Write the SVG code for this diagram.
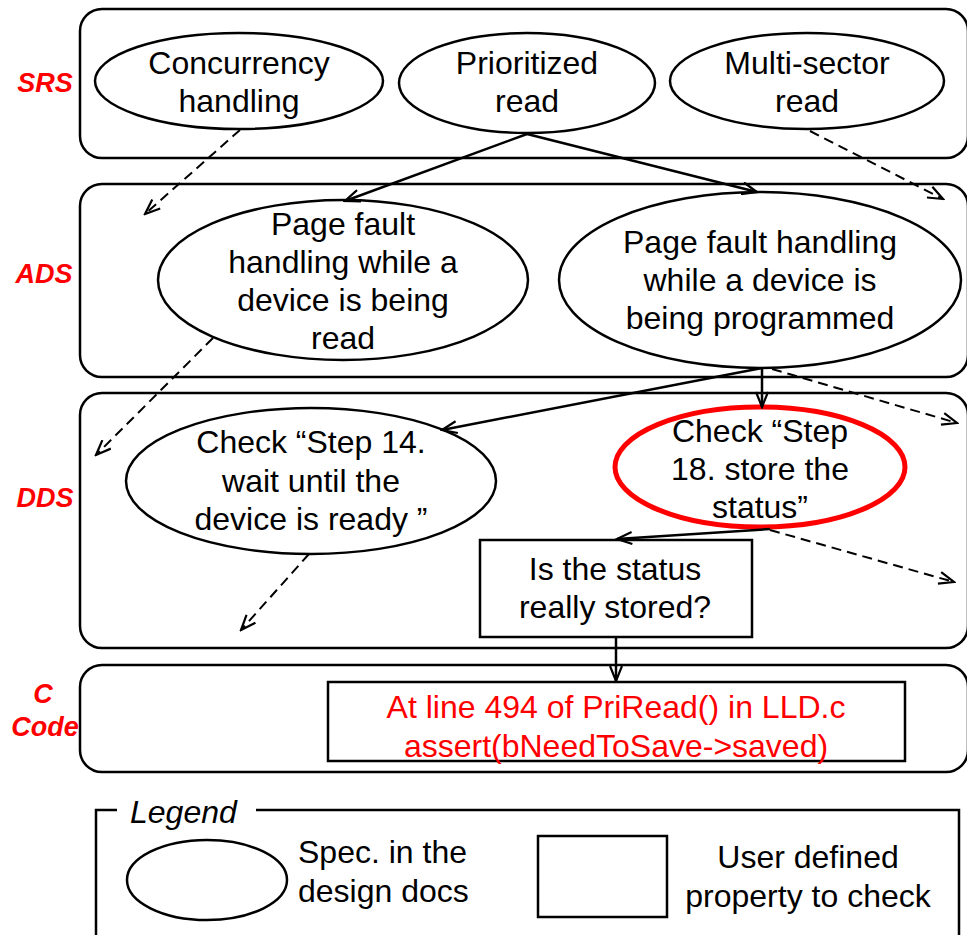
<svg xmlns="http://www.w3.org/2000/svg" width="967" height="935" viewBox="0 0 967 935">
<style>
.layer{fill:#fff;stroke:#000;stroke-width:2.5}
.el{fill:#fff;stroke:#000;stroke-width:2.5}
.box{fill:#fff;stroke:#000;stroke-width:2.5}
.t{font-family:"Liberation Sans",Arial,sans-serif;font-size:32px;fill:#000;text-anchor:middle}
.red{fill:#ff0000}
.lbl{font-family:"Liberation Sans",Arial,sans-serif;font-size:27px;font-weight:bold;font-style:italic;fill:#ff0000;text-anchor:middle}
.solid{fill:none;stroke:#000;stroke-width:2.5;marker-end:url(#arr)}
.dash{fill:none;stroke:#000;stroke-width:2;stroke-dasharray:10 6;marker-end:url(#arr)}
</style>
<defs>
<marker id="arr" viewBox="0 0 18 14" refX="16" refY="7" markerWidth="18" markerHeight="14" markerUnits="userSpaceOnUse" orient="auto">
<path d="M1,1 L16,7 L1,13" fill="none" stroke="#000" stroke-width="2.2" stroke-dasharray="none"/>
</marker>
</defs>
<rect width="967" height="935" fill="#fff"/>

<g id="layers">
<rect class="layer" x="80" y="9" width="888" height="149" rx="22"/>
<rect class="layer" x="80" y="184" width="888" height="193" rx="22"/>
<rect class="layer" x="80" y="393" width="888" height="255" rx="22"/>
<rect class="layer" x="80" y="665" width="888" height="107" rx="22"/>
<text class="lbl" x="45" y="92">SRS</text>
<text class="lbl" x="44" y="283">ADS</text>
<text class="lbl" x="45" y="507">DDS</text>
<text class="lbl" x="43" y="703">C</text>
<text class="lbl" x="45" y="736">Code</text>
</g>

<g id="n-concurrency">
<ellipse class="el" cx="239" cy="81" rx="144" ry="48"/>
<text class="t" x="239" y="74">Concurrency</text>
<text class="t" x="239" y="112">handling</text>
</g>
<g id="n-prioritized">
<ellipse class="el" cx="527" cy="83" rx="128" ry="50"/>
<text class="t" x="527" y="74">Prioritized</text>
<text class="t" x="527" y="112">read</text>
</g>
<g id="n-multisector">
<ellipse class="el" cx="807" cy="81" rx="137" ry="48"/>
<text class="t" x="807" y="74">Multi-sector</text>
<text class="t" x="807" y="112">read</text>
</g>

<g id="n-pf-read">
<ellipse class="el" cx="343" cy="280" rx="185" ry="80"/>
<text class="t" x="343" y="235">Page fault</text>
<text class="t" x="343" y="273">handling while a</text>
<text class="t" x="343" y="311">device is being</text>
<text class="t" x="343" y="349">read</text>
</g>
<g id="n-pf-prog">
<ellipse class="el" cx="760" cy="280" rx="201" ry="88"/>
<text class="t" x="760" y="253">Page fault handling</text>
<text class="t" x="760" y="291">while a device is</text>
<text class="t" x="760" y="329">being programmed</text>
</g>

<g id="n-step14">
<ellipse class="el" cx="311" cy="481" rx="185" ry="73"/>
<text class="t" x="311" y="453">Check “Step 14.</text>
<text class="t" x="311" y="492">wait until the</text>
<text class="t" x="311" y="530">device is ready ”</text>
</g>
<g id="n-step18">
<ellipse cx="760" cy="467" rx="145" ry="60" fill="#fff" stroke="#ff0000" stroke-width="5"/>
<text class="t" x="760" y="442">Check “Step</text>
<text class="t" x="760" y="480">18. store the</text>
<text class="t" x="760" y="518">status”</text>
</g>

<g id="n-status">
<rect class="box" x="480" y="540" width="272" height="97"/>
<text class="t" x="615" y="580">Is the status</text>
<text class="t" x="615" y="618">really stored?</text>
</g>

<g id="n-code">
<rect class="box" x="328" y="682" width="577" height="79"/>
<text class="t red" x="616" y="718">At line 494 of PriRead() in LLD.c</text>
<text class="t red" x="616" y="757">assert(bNeedToSave-&gt;saved)</text>
</g>

<g id="connectors">
<line class="dash" x1="240" y1="130" x2="145" y2="214"/>
<line class="solid" x1="527" y1="134" x2="345" y2="201"/>
<line class="solid" x1="527" y1="134" x2="757" y2="192"/>
<line class="dash" x1="810" y1="131" x2="943" y2="199"/>
<line class="dash" x1="213" y1="338" x2="96" y2="455"/>
<line class="solid" x1="762" y1="368" x2="442" y2="430"/>
<line class="solid" x1="762" y1="368" x2="762" y2="407"/>
<line class="dash" x1="772" y1="369" x2="957" y2="423"/>
<line class="dash" x1="309" y1="554" x2="241" y2="630"/>
<line class="solid" x1="770" y1="529" x2="617" y2="539"/>
<line class="dash" x1="770" y1="530" x2="954" y2="582"/>
<line class="solid" x1="616" y1="637" x2="616" y2="681"/>
</g>

<g id="legend">
<path d="M117,810 H96 V940 M256,810 H959 V940" fill="none" stroke="#000" stroke-width="2.5"/>
<text x="130" y="823" font-family="Liberation Sans, Arial, sans-serif" font-size="32" font-style="italic">Legend</text>
<ellipse class="el" cx="207" cy="880" rx="80" ry="40"/>
<text x="298" y="863" font-family="Liberation Sans, Arial, sans-serif" font-size="32">Spec. in the</text>
<text x="298" y="902" font-family="Liberation Sans, Arial, sans-serif" font-size="32">design docs</text>
<rect class="box" x="538" y="836" width="129" height="81"/>
<text class="t" x="808" y="868">User defined</text>
<text class="t" x="808" y="907">property to check</text>
</g>
</svg>
